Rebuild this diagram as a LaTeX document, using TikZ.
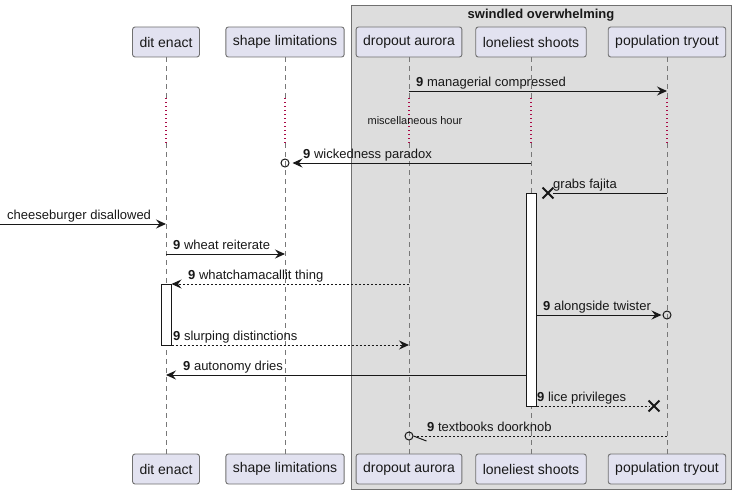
\documentclass[tikz,border=0pt]{standalone}
\usepackage{fontspec}
\setmainfont{Liberation Sans}
\usepackage{tikz}
\usetikzlibrary{arrows.meta,calc,positioning,shapes.misc}
\definecolor{seqInk}{RGB}{24,24,24}
\definecolor{seqPart}{RGB}{226,226,240}
\definecolor{seqEdge}{RGB}{112,112,112}
\definecolor{seqGroup}{RGB}{221,221,221}
\definecolor{seqLife}{RGB}{120,120,120}
\definecolor{seqDelay}{RGB}{170,10,70}
\definecolor{seqWhite}{RGB}{255,255,255}
\tikzset{
  seqpart/.style={draw=seqEdge,line width=0.9pt,rounded corners=2.5pt,fill=seqPart,inner xsep=7pt,
    minimum height=30pt,font=\fontsize{14}{16}\selectfont,text=seqInk},
  seqgroup/.style={draw=seqEdge,line width=1pt,fill=seqGroup},
  seqlife/.style={draw=seqLife,line width=0.8pt,dash pattern=on 5pt off 4pt},
  seqpause/.style={draw=seqDelay,line width=1.1pt,dash pattern=on 1.3pt off 2.7pt},
  seqact/.style={draw=seqInk,line width=1pt,fill=seqWhite,minimum width=10pt,inner sep=0pt},
  seqmsg/.style={draw=seqInk,line width=1pt},
  seqarrow/.style={seqmsg,-{Stealth[length=10pt,width=9pt,inset=3.5pt]}},
  seqreply/.style={seqarrow,dash pattern=on 2pt off 2pt},
  seqdash/.style={seqmsg,dash pattern=on 2pt off 2pt},
  seqlabel/.style={font=\fontsize{13}{15}\selectfont,text=seqInk,anchor=base west,inner sep=0pt},
  seqring/.style={circle,draw=seqInk,line width=1pt,minimum size=8pt,inner sep=0pt},
  seqkill/.style={cross out,draw=seqInk,line width=1.8pt,minimum size=9pt,inner sep=0pt},
}
\newcommand{\SeqParticipant}[3]{%
  \node[seqpart] (#1) at (#2,42) {#3};%
  \node[seqpart] (#1B) at (#2,469) {#3};%
}

\begin{document}
\begin{tikzpicture}[x=1pt,y=-1pt]
% Page: 736 x 495, y runs downwards.
\useasboundingbox (0,0) rectangle (736,495);

% Group box behind the right three participants.
\draw[seqgroup] (351,6) rectangle (731,489);
\node[font=\bfseries\fontsize{13}{15}\selectfont,text=seqInk] (gTitle) at (541,15) {swindled overwhelming};

% Participants, heads and feet.
\SeqParticipant{pDit}{166}{dit enact}
\SeqParticipant{pShape}{285}{shape limitations}
\SeqParticipant{pDrop}{409}{dropout aurora}
\SeqParticipant{pLone}{531}{loneliest shoots}
\SeqParticipant{pPop}{667}{population tryout}

% Lifelines with the delay gap.
\foreach \p in {pDit,pShape,pDrop,pLone,pPop}{
  \draw[seqlife] (\p.south) -- (\p |- 0,98);
  \draw[seqpause] (\p |- 0,98) -- (\p |- 0,143);
  \draw[seqlife] (\p |- 0,143) -- (\p B.north);
}
\node[font=\fontsize{11}{13}\selectfont,text=seqInk] (delay) at (415,121) {miscellaneous hour};

% Activations.
\node[seqact,minimum height=61pt] (actDit) at (166,314.5) {};
\node[seqact,minimum height=213pt] (actLone) at (531,299.5) {};

% Ends of messages.
\coordinate (leftEdge) at (0,224);
\node[seqring] (oShape) at (pShape |- 0,163) {};
\node[seqring] (oPop) at (pPop |- 0,315) {};
\node[seqring] (oDrop) at (pDrop |- 0,436) {};
\node[seqkill] (xFajita) at (548,193) {};
\node[seqkill] (xLice) at (654,406) {};

% Messages, top to bottom.
\draw[seqarrow] (pDrop |- 0,91) -- (pPop |- 0,91);
\node[seqlabel] (mManag) at (416,86) {\textbf{9} managerial compressed};

\draw[seqarrow,shorten >=3pt] (pLone |- 0,163) -- (oShape);
\node[seqlabel] (mWicked) at (303,158) {\textbf{9} wickedness paradox};

\draw[seqmsg] (pPop |- 0,193) -- (xFajita);
\node[seqlabel] (mFajita) at (553,188) {grabs fajita};

\draw[seqarrow] (leftEdge) -- (pDit |- 0,224);
\node[seqlabel] (mCheese) at (7,219) {cheeseburger disallowed};

\draw[seqarrow] (pDit |- 0,254) -- (pShape |- 0,254);
\node[seqlabel] (mWheat) at (173,249) {\textbf{9} wheat reiterate};

\draw[seqreply] (pDrop |- 0,284) -- (actDit.east |- 0,284);
\node[seqlabel] (mWhat) at (188,279) {\textbf{9} whatchamacallit thing};

\draw[seqarrow,shorten >=1pt] (actLone.east |- 0,315) -- (oPop);
\node[seqlabel] (mAlong) at (543,310) {\textbf{9} alongside twister};

\draw[seqreply] (actDit.east |- 0,345) -- (pDrop |- 0,345);
\node[seqlabel] (mSlurp) at (173,340) {\textbf{9} slurping distinctions};

\draw[seqarrow] (actLone.west |- 0,375) -- (pDit |- 0,375);
\node[seqlabel] (mAuto) at (183,370) {\textbf{9} autonomy dries};

\draw[seqdash] (actLone.east |- 0,406) -- (xLice);
\node[seqlabel] (mLice) at (537,401) {\textbf{9} lice privileges};

\draw[seqdash] (pPop |- 0,436) -- (oDrop);
\draw[seqmsg] (oDrop.east) -- ++(13,5);
\node[seqlabel] (mText) at (427,431) {\textbf{9} textbooks doorknob};
\end{tikzpicture}
\end{document}
